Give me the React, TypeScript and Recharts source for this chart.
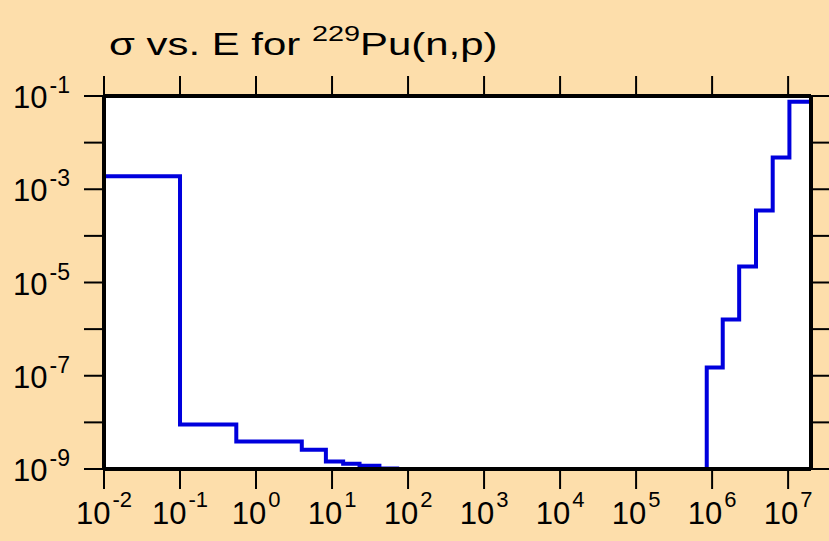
import { CartesianGrid, Line, LineChart, XAxis, YAxis } from 'recharts';

// histogram bin edges (eV) and cross section per bin (b)
const ENERGY_EDGES = [1e-2, 1e-1, 0.55, 4, 8.3, 14, 23, 42, 72, 8.5e5, 1.38e6, 2.27e6, 3.78e6, 6.27e6, 1.04e7, 2e7];
const OFF_SCALE = 1e-12; // zero / below the plotted range
const SIGMA = [1.9e-3, 9e-9, 3.9e-9, 2.6e-9, 1.45e-9, 1.3e-9, 1.17e-9, 1.03e-9, OFF_SCALE, 1.5e-7, 1.6e-6, 2.2e-5, 3.5e-4, 4.8e-3, 7.5e-2];

const X_TICKS = [1e-2, 1e-1, 1e0, 1e1, 1e2, 1e3, 1e4, 1e5, 1e6, 1e7];
const Y_TICKS = [1e-9, 1e-8, 1e-7, 1e-6, 1e-5, 1e-4, 1e-3, 1e-2, 1e-1];

const X_DOMAIN = [1e-2, 2e7];
const Y_DOMAIN = [1e-9, 1e-1];

const data = [
  { e: ENERGY_EDGES[0], s: OFF_SCALE },
  ...ENERGY_EDGES.map((e, i) => ({ e, s: i < SIGMA.length ? SIGMA[i] : OFF_SCALE })),
];

const FONT = '"Liberation Sans", Arial, sans-serif';
const BG = '#fddeab';

const expOf = (v: number) => Math.round(Math.log10(v));

function XTick({ x, y, payload }: any) {
  const exp = expOf(payload.value);
  return (
    <text x={x} y={y + 33} textAnchor="middle" fontFamily={FONT} fontSize={31} fill="#000">
      <tspan>10</tspan>
      <tspan dx={2} dy={-17} fontSize={22}>{exp}</tspan>
    </text>
  );
}

function YTick({ x, y, payload }: any) {
  const exp = expOf(payload.value);
  if (Math.abs(exp) % 2 !== 1) return <g />;
  return (
    <text x={x - 12} y={y + 12} textAnchor="end" fontFamily={FONT} fontSize={31} fill="#000">
      <tspan>10</tspan>
      <tspan dx={2} dy={-15} fontSize={23}>{exp}</tspan>
    </text>
  );
}

const noLabel = () => <g />;

const axisLine = { stroke: '#000', strokeWidth: 4 };
const tickLine = { stroke: '#000', strokeWidth: 2 };

export default function App() {
  return (
    <div style={{ position: 'fixed', left: 0, top: 0, width: 829, height: 541, background: BG }}>
      <div
        style={{
          position: 'absolute',
          left: 109,
          top: 28,
          fontFamily: FONT,
          fontSize: 32,
          lineHeight: '32px',
          whiteSpace: 'nowrap',
          color: '#000',
          transform: 'scaleX(1.31)',
          transformOrigin: '0 0',
        }}
      >
        σ vs. E for <span style={{ fontSize: 22, position: 'relative', top: -14 }}>229</span>Pu(n,p)
      </div>
      <LineChart
        width={829}
        height={541}
        data={data}
        margin={{ top: 95, right: 17, bottom: 0, left: 0 }}
        style={{ position: 'absolute', left: 0, top: 0 }}
      >
        <CartesianGrid fill="#fff" horizontal={false} vertical={false} />
        <XAxis
          dataKey="e"
          type="number"
          scale="log"
          domain={X_DOMAIN}
          allowDataOverflow
          ticks={X_TICKS}
          height={72}
          tickSize={20}
          axisLine={axisLine}
          tickLine={tickLine}
          tick={<XTick />}
          interval={0}
        />
        <XAxis
          xAxisId="top"
          orientation="top"
          dataKey="e"
          type="number"
          scale="log"
          domain={X_DOMAIN}
          allowDataOverflow
          ticks={X_TICKS}
          height={1}
          tickSize={20}
          axisLine={axisLine}
          tickLine={tickLine}
          tick={noLabel}
          interval={0}
        />
        <YAxis
          type="number"
          scale="log"
          domain={Y_DOMAIN}
          allowDataOverflow
          ticks={Y_TICKS}
          width={104}
          tickSize={20}
          axisLine={axisLine}
          tickLine={tickLine}
          tick={<YTick />}
          interval={0}
        />
        <YAxis
          yAxisId="right"
          orientation="right"
          type="number"
          scale="log"
          domain={Y_DOMAIN}
          allowDataOverflow
          ticks={Y_TICKS}
          width={1}
          tickSize={20}
          axisLine={axisLine}
          tickLine={tickLine}
          tick={noLabel}
          interval={0}
        />
        {/* same steps on the mirror axes, not stroked, so the frame axes get drawn */}
        <Line
          xAxisId="top"
          yAxisId="right"
          type="stepAfter"
          dataKey="s"
          stroke="none"
          dot={false}
          activeDot={false}
          isAnimationActive={false}
        />
        <Line
          type="stepAfter"
          dataKey="s"
          stroke="#0000dd"
          strokeWidth={4}
          dot={false}
          isAnimationActive={false}
        />
      </LineChart>
    </div>
  );
}
